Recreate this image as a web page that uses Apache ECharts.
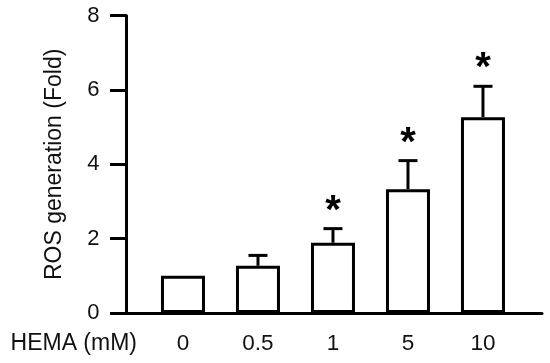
<!DOCTYPE html>
<html><head><meta charset="utf-8">
<script src="https://cdn.jsdelivr.net/npm/echarts@6/dist/echarts.min.js"></script>
<style>html,body{margin:0;padding:0;background:#fff}#c{width:550px;height:363px}</style>
</head><body><div id="c"></div>
<script>
var categories = ['0', '0.5', '1', '5', '10'];
var means = [1.0, 1.27, 1.89, 3.33, 5.27];
var errors = [0, 0.28, 0.38, 0.77, 0.83];
var significant = [false, false, true, true, true];
var yTicks = [0, 2, 4, 6, 8];
var xTitle = 'HEMA (mM)';
var yTitle = 'ROS generation (Fold)';

var FONT = '"Liberation Sans", Arial, sans-serif';
var chart = echarts.init(document.getElementById('c'));
var idx = categories.map(function (c, i) { return i; });
var barData = idx.map(function (i) { return [i, means[i]]; });
var errData = idx.map(function (i) { return [i, means[i], errors[i], significant[i] ? 1 : 0]; });

chart.setOption({
  animation: false,
  grid: { left: 126.5, right: 8, top: 15.7, bottom: 50, outerBoundsMode: 'none', containLabel: false },
  xAxis: {
    type: 'value', min: -0.753, max: 4.787,
    splitLine: { show: false },
    axisLine: { onZero: false, lineStyle: { color: '#000', width: 3 } },
    axisTick: { show: false },
    axisLabel: {
      customValues: idx,
      formatter: function (v) { return categories[Math.round(v)]; },
      color: '#111', fontSize: 22.5, fontFamily: FONT, margin: 19
    },
    name: xTitle, nameLocation: 'start', nameGap: -10.5, nameMoveOverlap: false,
    nameTextStyle: { color: '#111', fontSize: 23, fontFamily: FONT, verticalAlign: 'top', lineHeight: 62 }
  },
  yAxis: {
    type: 'value', min: 0, max: 8, interval: 2,
    splitLine: { show: false },
    axisLine: { show: true, onZero: false, lineStyle: { color: '#000', width: 3 } },
    axisTick: { show: true, length: 16.5, lineStyle: { color: '#000', width: 3 } },
    axisLabel: { color: '#111', fontSize: 22, fontFamily: FONT, margin: 27,
      formatter: function (v) { return yTicks.indexOf(v) >= 0 ? String(v) : ''; } },
    name: yTitle, nameLocation: 'middle', nameGap: 60, nameMoveOverlap: false,
    nameTextStyle: { color: '#111', fontSize: 23, fontFamily: FONT }
  },
  series: [
    {
      type: 'bar', data: barData, barWidth: 44,
      itemStyle: { color: '#fff', borderColor: '#000', borderWidth: 3 },
      z: 2
    },
    {
      type: 'custom', data: errData, z: 3,
      renderItem: function (params, api) {
        var x = api.value(0), m = api.value(1), e = api.value(2), sig = api.value(3);
        var top = api.coord([x, m]);
        var cap = api.coord([x, m + e]);
        var children = [];
        var st = { stroke: '#000', lineWidth: 3 };
        if (e > 0) {
          children.push({ type: 'line', shape: { x1: top[0], y1: top[1], x2: cap[0], y2: cap[1] }, style: st });
          children.push({ type: 'line', shape: { x1: cap[0] - 9.5, y1: cap[1], x2: cap[0] + 9.5, y2: cap[1] }, style: st });
        }
        if (sig) {
          children.push({ type: 'text', style: { text: '*', x: cap[0], y: cap[1] - 17, align: 'center', verticalAlign: 'middle',
            font: 'bold 40px ' + FONT, fill: '#000' } });
        }
        return { type: 'group', children: children };
      }
    }
  ]
});
</script></body></html>
